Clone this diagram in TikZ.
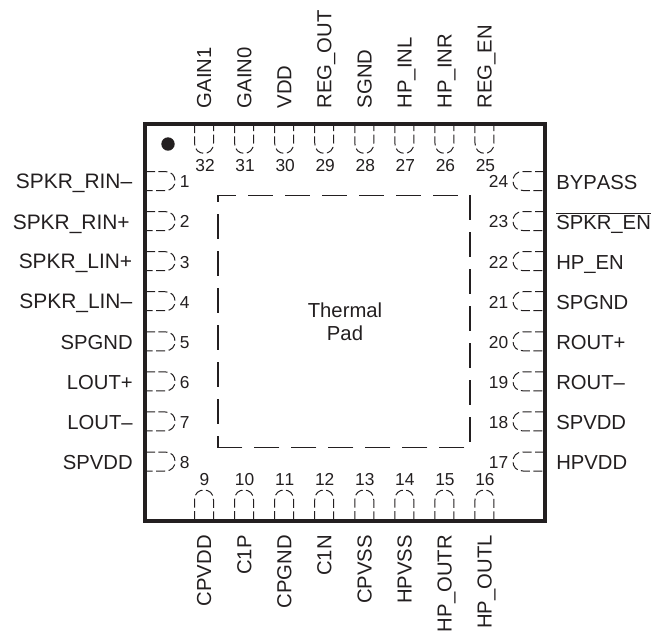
\documentclass[tikz,border=0pt]{standalone}
\usepackage{fontspec}
\setmainfont[Kerning=Off]{Liberation Sans}
\definecolor{ink}{HTML}{231F20}
\tikzset{
  x=0.75pt,y=-0.75pt,
  lab/.style={font=\fontsize{15.2pt}{18.6pt}\selectfont,text=ink,inner sep=0pt,text height=10.85pt,text depth=0pt},
  wlab/.style={lab,font=\fontsize{15.7pt}{18.6pt}\selectfont},
  tlab/.style={font=\fontsize{15.2pt}{17.4pt}\selectfont,text=ink,inner sep=0pt,align=center},
  num/.style={font=\fontsize{13pt}{15pt}\selectfont,text=ink,inner sep=0pt,text height=9.3pt,text depth=0pt},
  pad/.style={draw=ink,line width=0.75pt,dash pattern=on 6.75pt off 2.6pt},
  tp/.style={draw=ink,line width=0.9pt},
  tpd/.style={tp,dash pattern=on 18.75pt off 9pt},
}
\newcommand{\padU}[1]{\draw[pad] (#1-9.5,124) -- (#1-9.5,143) .. controls (#1-9.5,150) and (#1-5,153.3) .. (#1,153.3) .. controls (#1+5,153.3) and (#1+9.5,150) .. (#1+9.5,143) -- (#1+9.5,124);}
\newcommand{\padD}[1]{\draw[pad] (#1-9.5,520) -- (#1-9.5,500) .. controls (#1-9.5,493) and (#1-5,490) .. (#1,490) .. controls (#1+5,490) and (#1+9.5,493) .. (#1+9.5,500) -- (#1+9.5,520);}
\newcommand{\padL}[1]{\draw[pad] (146,#1-9.5) -- (165,#1-9.5) .. controls (172,#1-9.5) and (175,#1-5) .. (175,#1) .. controls (175,#1+5) and (172,#1+9.5) .. (165,#1+9.5) -- (146,#1+9.5);}
\newcommand{\padR}[1]{\draw[pad] (544,#1-9.5) -- (523,#1-9.5) .. controls (516,#1-9.5) and (513,#1-5) .. (513,#1) .. controls (513,#1+5) and (516,#1+9.5) .. (523,#1+9.5) -- (544,#1+9.5);}
\begin{document}
\begin{tikzpicture}
\useasboundingbox (0,0) rectangle (652,633);
\fill[white] (0,0) rectangle (652,633);
\draw[ink,line width=3pt] (145,123.5) rectangle (545,521);
\fill[ink] (168,144) circle (6.7);
\foreach \i [evaluate=\i as \c using 204+40.07*\i] in {0,...,7} {\padU{\c}\padD{\c}}
\foreach \i [evaluate=\i as \c using 181+40.07*\i] in {0,...,7} {\padL{\c}\padR{\c}}
\draw[tp] (218,201.7) -- (218,195.5) -- (236,195.5);
\draw[tpd] (248.3,195.5) -- (470,195.5);
\draw[tpd] (470,195) -- (470,445);
\draw[tpd] (464.3,447.7) -- (217.7,447.7);
\draw[tp] (218,436) -- (218,447.7);
\draw[tpd] (218,214) -- (218,430);
\node[tlab] (tp) at (345,322) {Thermal\\Pad};
\foreach \t [count=\i from 0, evaluate=\i as \c using 204+40.07*\i] in {GAIN1,GAIN0,VDD,REG\_OUT,SGND,HP\_INL,HP\_INR,REG\_EN}
  \node[lab,rotate=90,anchor=west] (t\i) at (\c,108.5) {\t};
\foreach \t [count=\i from 0, evaluate=\i as \c using 204+40.07*\i] in {CPVDD,C1P,CPGND,C1N,CPVSS,HPVSS,HP\_OUTR,HP\_OUTL}
  \node[lab,rotate=90,anchor=east] (b\i) at (\c,535) {\t};
\node[wlab,anchor=east] (la) at (132.5,181.5) {SPKR\_RIN–};
\node[wlab,anchor=east] (lb) at (130,222) {SPKR\_RIN+};
\node[wlab,anchor=east] (lc) at (132.5,261.5) {SPKR\_LIN+};
\node[wlab,anchor=east] (ld) at (132.5,301.5) {SPKR\_LIN–};
\foreach \t [count=\i from 4, evaluate=\i as \c using 181+40.07*\i] in {SPGND,LOUT+,LOUT–,SPVDD}
  \node[lab,anchor=east] (l\i) at (133,\c+1) {\t};
\foreach \t [count=\i from 0, evaluate=\i as \c using 181+40.07*\i] in {BYPASS,$\overline{\mbox{SPKR\_EN}}$,HP\_EN,SPGND,ROUT+,ROUT–,SPVDD,HPVDD}
  \node[lab,anchor=west] (r\i) at (556,\c+1) {\t};
\foreach \n [count=\i from 0, evaluate=\i as \c using 205+40.07*\i] in {32,31,30,29,28,27,26,25}
  \node[num] (nt\n) at (\c,165.5) {\n};
\foreach \n [count=\i from 0, evaluate=\i as \c using 204.5+40.07*\i] in {9,10,11,12,13,14,15,16}
  \node[num] (nb\n) at (\c,479) {\n};
\foreach \n [count=\i from 0, evaluate=\i as \c using 181.7+40.07*\i] in {1,2,3,4,5,6,7,8}
  \node[num,anchor=west] (nl\n) at (179.5,\c) {\n};
\foreach \n [count=\i from 0, evaluate=\i as \c using 181.7+40.07*\i] in {24,23,22,21,20,19,18,17}
  \node[num,anchor=east] (nr\n) at (508.5,\c) {\n};
\end{tikzpicture}
\end{document}
